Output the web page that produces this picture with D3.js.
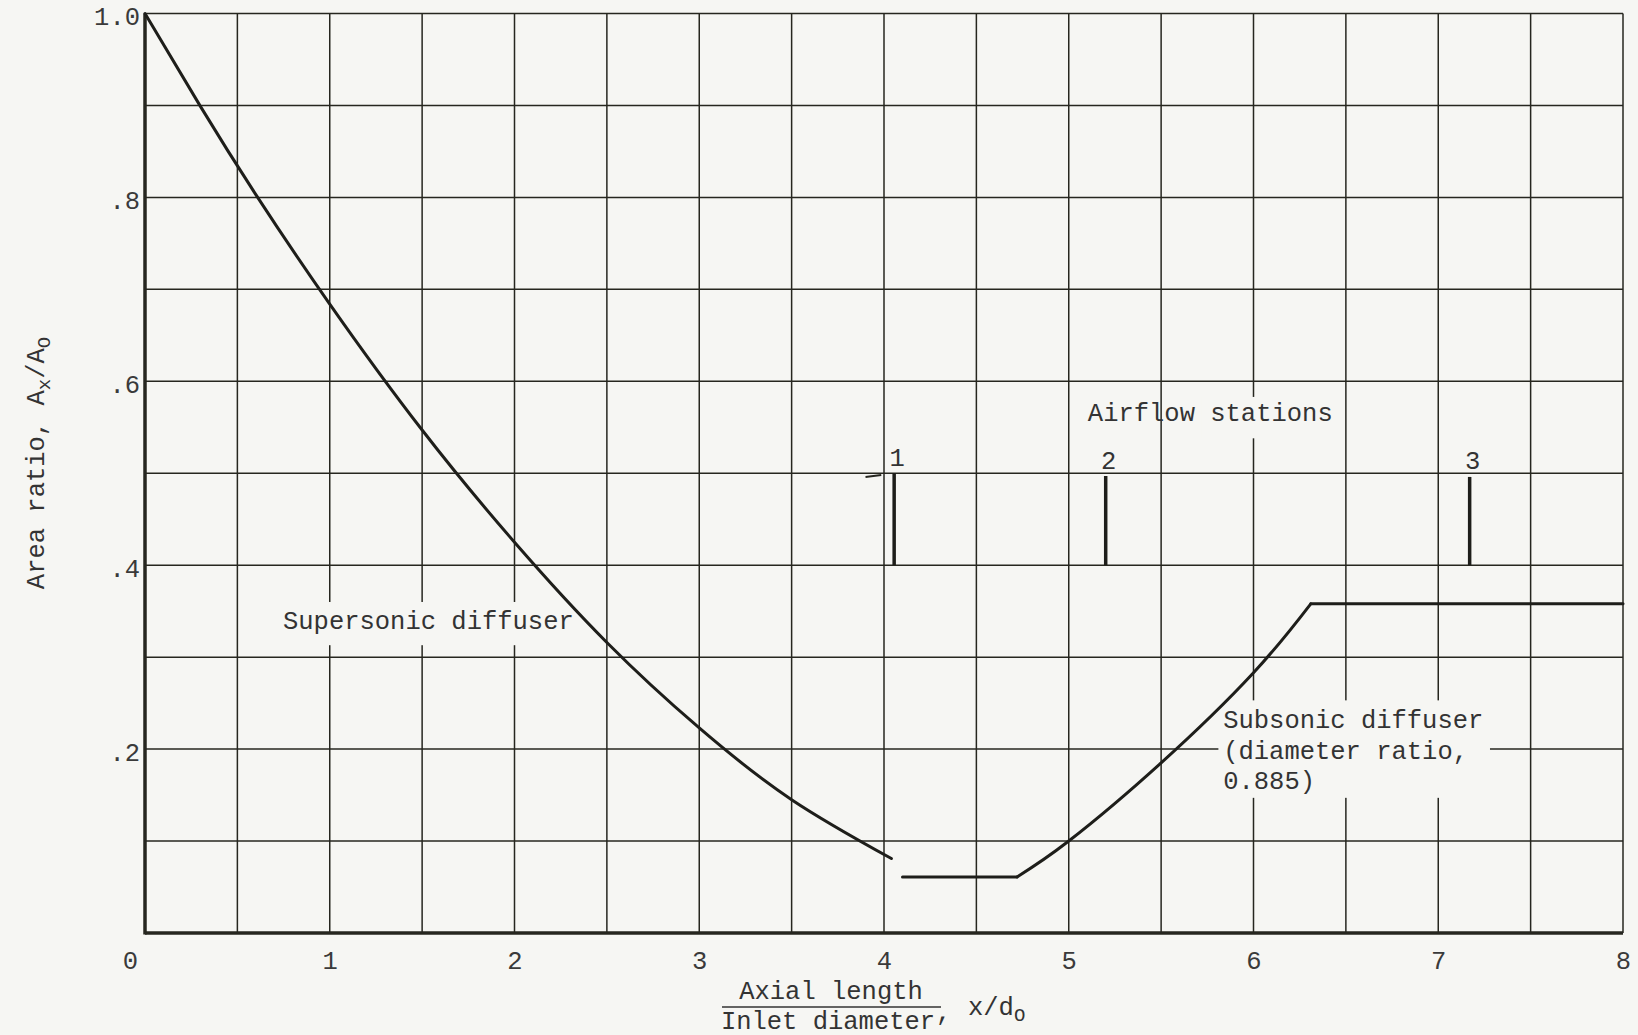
<!DOCTYPE html>
<html lang="en">
    <head>
        <meta charset="utf-8">
        <title>Area ratio vs axial length</title>
        <script type="text/javascript" src="https://d3js.org/d3.v7.min.js"></script>
        <style>
            body { margin: 0; background: #f6f6f3; }
            svg { display: block; }
            text { font-family: "Liberation Mono", "DejaVu Sans Mono", monospace; fill: #333; }
        </style>
    </head>

    <body>
        <script type="text/javascript">

            // tick values and labels
            var x_ticks = [0, 1, 2, 3, 4, 5, 6, 7, 8];
            var x_tick_labels = ["0", "1", "2", "3", "4", "5", "6", "7", "8"];
            var y_ticks = [0.2, 0.4, 0.6, 0.8, 1.0];
            var y_tick_labels = [".2", ".4", ".6", ".8", "1.0"];

            // supersonic diffuser curve
            var super_x = [0, 0.3, 0.6, 1.0, 1.5, 2.0, 2.5, 3.0, 3.5, 4.04];
            var super_y = [1.0, 0.899, 0.803, 0.684, 0.547, 0.425, 0.316, 0.223, 0.145, 0.081];

            // throat section
            var throat_x = [4.10, 4.72];
            var throat_y = [0.061, 0.061];

            // subsonic diffuser rise and constant area part
            var sub_x = [4.72, 5.0, 5.5, 6.0, 6.31];
            var sub_y = [0.061, 0.1, 0.185, 0.283, 0.358];
            var plateau_x = [6.31, 8.0];
            var plateau_y = [0.358, 0.358];

            // airflow stations
            var station_names = ["1", "2", "3"];
            var station_x = [4.055, 5.20, 7.17];
            var station_top = [0.5, 0.497, 0.496];
            var station_bottom = [0.4, 0.4, 0.4];

            var width = 1638, height = 1035;
            var ink = "#26261f";
            var paper = "#f6f6f3";

            var x = d3.scaleLinear().domain([0, 8]).range([145, 1623]);
            var y = d3.scaleLinear().domain([0, 1]).range([933, 13.5]);

            var svg = d3.select("body")
                .append("svg")
                .attr("width", width)
                .attr("height", height);

            svg.append("rect")
                .attr("width", width)
                .attr("height", height)
                .attr("fill", paper);

            // grid, every 0.5 in x and 0.1 in y
            var grid = svg.append("g").attr("stroke", ink).attr("stroke-width", 1.5);
            grid.selectAll(".vx")
                .data(x.ticks(16))
                .enter()
                .append("line")
                .attr("x1", function(d) { return x(d); })
                .attr("x2", function(d) { return x(d); })
                .attr("y1", y(0))
                .attr("y2", y(1));
            grid.selectAll(".hy")
                .data(y.ticks(10))
                .enter()
                .append("line")
                .attr("x1", x(0))
                .attr("x2", x(8))
                .attr("y1", function(d) { return y(d); })
                .attr("y2", function(d) { return y(d); });

            // heavy left and bottom axes
            svg.append("line")
                .attr("x1", x(0)).attr("x2", x(0))
                .attr("y1", y(0) + 1.5).attr("y2", y(1))
                .attr("stroke", ink).attr("stroke-width", 3.5);
            svg.append("line")
                .attr("x1", x(0)).attr("x2", x(8))
                .attr("y1", y(0)).attr("y2", y(0))
                .attr("stroke", ink).attr("stroke-width", 3.5);

            // tick labels
            var x_axis = svg.append("g")
                .attr("transform", "translate(0," + y(0) + ")")
                .call(d3.axisBottom(x)
                    .tickValues(x_ticks)
                    .tickSize(0)
                    .tickPadding(0)
                    .tickFormat(function(d, i) { return x_tick_labels[i]; }));
            x_axis.select(".domain").remove();
            x_axis.selectAll("text")
                .attr("y", 29)
                .attr("dy", null)
                .attr("dominant-baseline", "central")
                .attr("dx", function(d) { return d === 0 ? -15 : 0; })
                .style("font-family", "'Liberation Mono', monospace")
                .style("font-size", "25.5px")
                .style("fill", "#3a3a3a");

            var y_axis = svg.append("g")
                .attr("transform", "translate(" + x(0) + ",0)")
                .call(d3.axisLeft(y)
                    .tickValues(y_ticks)
                    .tickSize(0)
                    .tickPadding(5)
                    .tickFormat(function(d, i) { return y_tick_labels[i]; }));
            y_axis.select(".domain").remove();
            y_axis.selectAll("text")
                .attr("dy", null)
                .attr("y", function(d) { return d === 1 ? 4 : 5; })
                .attr("dominant-baseline", "central")
                .style("font-family", "'Liberation Mono', monospace")
                .style("font-size", "25.5px")
                .style("fill", "#3a3a3a");

            // label knockouts (the labels cover the grid)
            function knockout(x0, y0, x1, y1) {
                svg.append("rect")
                    .attr("x", x(x0)).attr("y", y(y1))
                    .attr("width", x(x1) - x(x0))
                    .attr("height", y(y0) - y(y1))
                    .attr("fill", paper);
            }
            knockout(5.72, 0.538, 6.3, 0.583);
            knockout(0.72, 0.313, 2.35, 0.36);
            knockout(5.81, 0.147, 7.28, 0.253);

            function label(tx, ty, str, anchor) {
                return svg.append("text")
                    .attr("x", x(tx))
                    .attr("y", y(ty))
                    .attr("text-anchor", anchor || "start")
                    .attr("dominant-baseline", "central")
                    .style("font-size", "25.5px")
                    .text(str);
            }
            label(5.766, 0.5634, "Airflow stations", "middle");
            label(0.747, 0.338, "Supersonic diffuser");
            label(5.836, 0.2295, "Subsonic diffuser");
            label(5.836, 0.196, "(diameter ratio,");
            label(5.836, 0.164, "0.885)");

            // curves
            var line = d3.line()
                .x(function(d) { return x(d[0]); })
                .y(function(d) { return y(d[1]); });

            function draw(xs, ys, curve) {
                svg.append("path")
                    .attr("d", line.curve(curve)(d3.zip(xs, ys)))
                    .attr("fill", "none")
                    .attr("stroke", "#1e1e1a")
                    .attr("stroke-width", 3)
                    .attr("stroke-linecap", "round")
                    .attr("stroke-linejoin", "round");
            }
            draw(super_x, super_y, d3.curveNatural);
            draw(throat_x, throat_y, d3.curveLinear);
            draw(sub_x, sub_y, d3.curveNatural);
            draw(plateau_x, plateau_y, d3.curveLinear);

            // station markers
            var stations = svg.append("g");
            stations.selectAll("line")
                .data(station_x)
                .enter()
                .append("line")
                .attr("x1", function(d) { return x(d); })
                .attr("x2", function(d) { return x(d); })
                .attr("y1", function(d, i) { return y(station_top[i]); })
                .attr("y2", function(d, i) { return y(station_bottom[i]); })
                .attr("stroke", "#1e1e1a")
                .attr("stroke-width", 3.5);
            stations.selectAll("text")
                .data(station_x)
                .enter()
                .append("text")
                .attr("x", function(d) { return x(d) + 3; })
                .attr("y", function(d, i) { return y(station_top[i]) - 14; })
                .attr("text-anchor", "middle")
                .attr("dominant-baseline", "central")
                .style("font-size", "25.5px")
                .text(function(d, i) { return station_names[i]; });
            // small stray dash left of station 1
            svg.append("line")
                .attr("x1", x(3.90)).attr("x2", x(3.985))
                .attr("y1", y(0.496)).attr("y2", y(0.498))
                .attr("stroke", ink).attr("stroke-width", 2);

            // y axis title
            var ytitle = svg.append("text")
                .attr("transform", "translate(44,463) rotate(-90)")
                .attr("text-anchor", "middle")
                .style("font-size", "25.5px");
            ytitle.append("tspan").text("Area ratio, A");
            ytitle.append("tspan").attr("dy", 6).style("font-size", "19px").text("x");
            ytitle.append("tspan").attr("dy", -6).text("/A");
            ytitle.append("tspan").attr("dy", 6).style("font-size", "19px").text("O");

            // x axis title: fraction plus x/dO
            svg.append("text")
                .attr("x", 831).attr("y", 992)
                .attr("text-anchor", "middle")
                .attr("dominant-baseline", "central")
                .style("font-size", "25.5px")
                .text("Axial length");
            svg.append("line")
                .attr("x1", 722).attr("x2", 941)
                .attr("y1", 1007).attr("y2", 1007)
                .attr("stroke", "#333").attr("stroke-width", 1.5);
            svg.append("text")
                .attr("x", 828).attr("y", 1022)
                .attr("text-anchor", "middle")
                .attr("dominant-baseline", "central")
                .style("font-size", "25.5px")
                .text("Inlet diameter");
            svg.append("text")
                .attr("x", 936).attr("y", 1020)
                .style("font-size", "25.5px")
                .text(",");
            var xtitle = svg.append("text")
                .attr("x", 968).attr("y", 1015)
                .style("font-size", "25.5px");
            xtitle.append("tspan").text("x/d");
            xtitle.append("tspan").attr("dy", 6).style("font-size", "19px").text("O");
        </script>
    </body>
</html>
